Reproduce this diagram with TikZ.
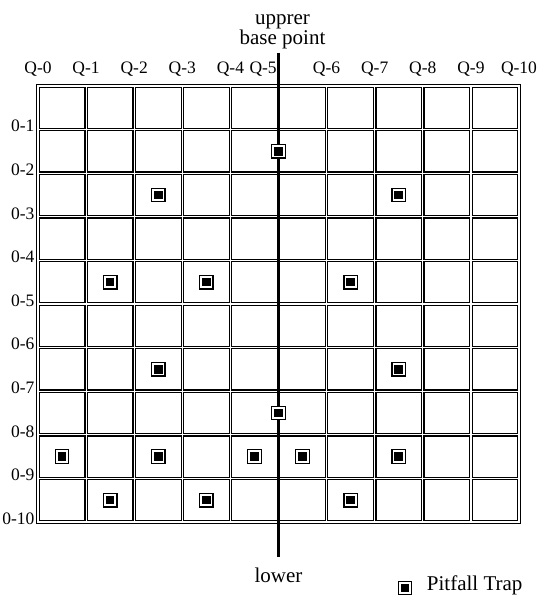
\documentclass[tikz,border=0pt]{standalone}
\usepackage{fontspec}
\setmainfont{Liberation Serif}
\usetikzlibrary{positioning}
\tikzset{
    trap/.style={draw=black, line width=1.3pt, fill=white, minimum size=13.5pt, inner sep=0pt,
        path picture={\fill[black] ([xshift=-4.3pt,yshift=-4.3pt]path picture bounding box.center) rectangle ([xshift=4.3pt,yshift=4.3pt]path picture bounding box.center);}},
    gridlabel/.style={font=\fontsize{17.5}{19}\selectfont},
    textlabel/.style={font=\fontsize{21}{20}\selectfont},
}

\begin{document}
\begin{tikzpicture}[x=48.1pt, y=43.6pt]
\useasboundingbox (-38pt,-80pt) rectangle (503pt,522pt);
% grid
\draw[line width=3.6pt, line cap=rect] (0,0) grid[step=1] (10,10);
\draw[white, line width=1.2pt, line cap=rect] (0,0) grid[step=1] (10,10);
% labels
\foreach \k in {0,1,2,3,4,6,7,8,9,10} {
    \node[gridlabel, anchor=base] (q\k) at ([yshift=12pt]\k,10) {Q-\k};
}
\node[gridlabel, anchor=base] (q5) at ([yshift=12pt]4.68,10) {Q-5};
\foreach \r in {1,...,10} {
    \node[gridlabel, anchor=mid east] (r\r) at (0,10-\r) {0-\r};
}
% base line
\coordinate (basetop) at ([yshift=33pt]5,10);
\coordinate (basebot) at ([yshift=-35pt]5,0);
\draw[line width=2.8pt] (basetop) -- (basebot);
\node[textlabel, above=0pt of basetop, xshift=4pt, align=center] (upper) {upprer\\base point};
\node[textlabel, below=7pt of basebot] (lower) {lower};
% traps
\foreach \x/\y [count=\i] in {5/8.5, 2.5/7.5, 7.5/7.5, 1.5/5.5, 3.5/5.5, 6.5/5.5, 2.5/3.5, 7.5/3.5, 5/2.5,
    0.5/1.5, 2.5/1.5, 4.5/1.5, 5.5/1.5, 7.5/1.5, 1.5/0.5, 3.5/0.5, 6.5/0.5} {
    \node[trap] (t\i) at (\x,\y) {};
}
% legend
\node[trap] (key) at ([yshift=-66pt]7.63,0) {};
\node[textlabel, right=11pt of key, anchor=mid west] (keytext) {Pitfall Trap};
\end{tikzpicture}
\end{document}
